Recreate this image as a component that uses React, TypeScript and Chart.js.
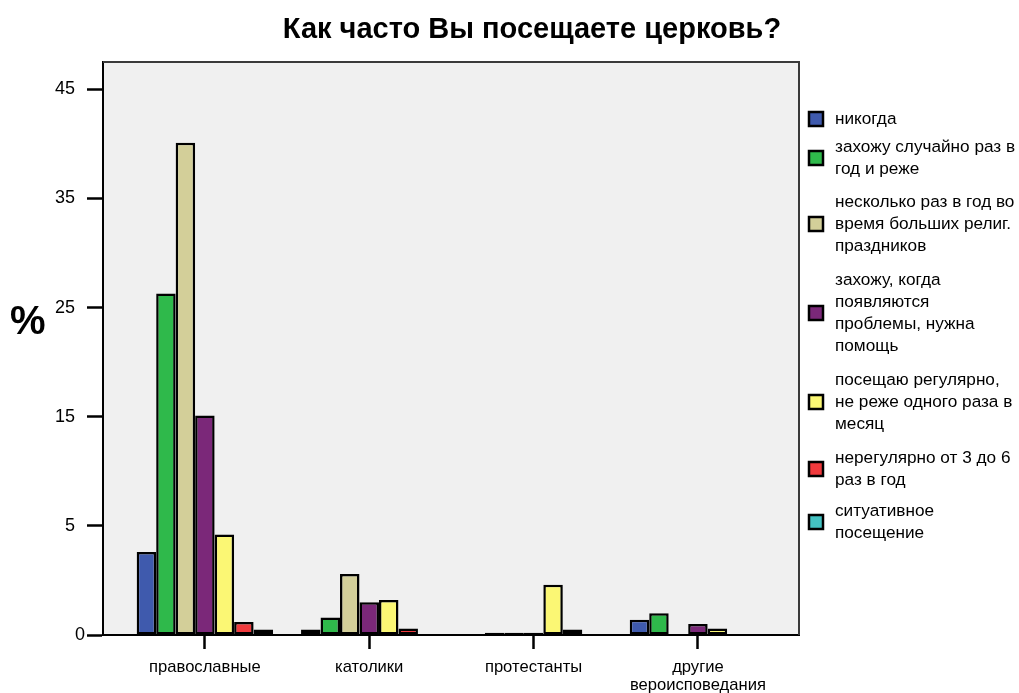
import React, { useEffect, useRef } from "react";
import { Chart, registerables } from "chart.js";

Chart.register(...registerables);

// ---------- data ----------
const chartTitle = "Как часто Вы посещаете церковь?";
const yAxisTitle = "%";

const categories: (string | string[])[] = [
  "православные",
  "католики",
  "протестанты",
  ["другие", "вероисповедания"],
];

// tick labels shown on the value axis (the original axis is not linear: 0..5 takes one step)
const yTickLabels = [0, 5, 15, 25, 35, 45];

const seriesLabels: string[][] = [
  ["никогда"],
  ["захожу случайно раз в", "год и реже"],
  ["несколько раз в год во", "время больших религ.", "праздников"],
  ["захожу, когда", "появляются", "проблемы, нужна", "помощь"],
  ["посещаю регулярно,", "не реже одного раза в", "месяц"],
  ["нерегулярно от 3 до 6", "раз в год"],
  ["ситуативное", "посещение"],
];

const seriesColors = [
  "#3f5aad",
  "#2fb94b",
  "#d3cf99",
  "#7b2879",
  "#fbf774",
  "#f03a3d",
  "#44c2c2",
];

const never: (number | null)[] = [3.8, 0.25, null, 0.7];
const rarelyOnceYear: (number | null)[] = [26.3, 0.8, 0.1, 1.0];
const bigHolidays: (number | null)[] = [40.1, 2.8, 0.1, null];
const whenProblems: (number | null)[] = [15.1, 1.5, 0.1, 0.5];
const regularly: (number | null)[] = [4.6, 1.6, 2.3, 0.3];
const irregular3to6: (number | null)[] = [0.6, 0.3, 0.25, null];
const situational: (number | null)[] = [0.25, null, null, null];

const seriesValues = [
  never,
  rarelyOnceYear,
  bigHolidays,
  whenProblems,
  regularly,
  irregular3to6,
  situational,
];

// ---------- axis mapping (piecewise: 0..5 spans one tick step, then 10 per step) ----------
const toAxis = (v: number) => (v <= 5 ? v * 2 : v + 5);

const FONT = '"Liberation Sans", Arial, Helvetica, sans-serif';

const decorPlugin = {
  id: "decor",
  beforeDraw(chart: any) {
    const { ctx, chartArea } = chart;
    ctx.save();
    ctx.fillStyle = "#ffffff";
    ctx.fillRect(0, 0, chart.width, chart.height);
    ctx.fillStyle = "#f0f0f0";
    ctx.fillRect(
      chartArea.left,
      chartArea.top,
      chartArea.right - chartArea.left,
      chartArea.bottom - chartArea.top
    );
    ctx.restore();
  },
  afterDraw(chart: any) {
    const { ctx, chartArea } = chart;
    ctx.save();
    // frame
    ctx.strokeStyle = "#3a3a3a";
    ctx.lineWidth = 2;
    ctx.beginPath();
    ctx.moveTo(chartArea.left, chartArea.top);
    ctx.lineTo(chartArea.right, chartArea.top);
    ctx.lineTo(chartArea.right, chartArea.bottom);
    ctx.stroke();

    // title
    ctx.fillStyle = "#000";
    ctx.textAlign = "center";
    ctx.textBaseline = "middle";
    ctx.font = `bold 29px ${FONT}`;
    ctx.fillText(chartTitle, 532, 30);

    // y axis title
    ctx.font = `bold 40px ${FONT}`;
    ctx.textAlign = "left";
    ctx.fillText(yAxisTitle, 10, 323);

    // legend
    const firstLineY = [119, 147, 202, 280, 380, 458, 511];
    const lineH = 22;
    ctx.font = `17.2px ${FONT}`;
    ctx.textBaseline = "middle";
    chart.data.datasets.forEach((ds: any, i: number) => {
      const lines: string[] = seriesLabels[i];
      const y0 = firstLineY[i];
      lines.forEach((t, k) => {
        ctx.fillStyle = "#000";
        ctx.fillText(t, 835, y0 + k * lineH);
      });
      const midY = y0 + ((lines.length - 1) * lineH) / 2;
      ctx.fillStyle = ds.backgroundColor;
      ctx.fillRect(809, midY - 7, 14, 14);
      ctx.strokeStyle = "#000";
      ctx.lineWidth = 2.5;
      ctx.strokeRect(809, midY - 7, 14, 14);
    });
    ctx.restore();
  },
};

export default function App() {
  const ref = useRef<HTMLCanvasElement | null>(null);

  useEffect(() => {
    if (!ref.current) return;
    const datasets = seriesValues.map((vals, i) => ({
      label: seriesLabels[i].join(" "),
      data: vals.map((v, j) => ({ x: j, y: v === null ? null : toAxis(v) })),
      backgroundColor: seriesColors[i],
      borderColor: "#000000",
      borderWidth: 2.5,
      borderSkipped: false,
      categoryPercentage: 0.83,
      barPercentage: 1,
    }));

    const chart = new Chart(ref.current, {
      type: "bar",
      data: { datasets: datasets as any },
      options: {
        animation: false,
        responsive: false,
        devicePixelRatio: 1,
        layout: { padding: { top: 62, right: 220, left: 0, bottom: 0 } },
        plugins: {
          legend: { display: false },
          title: { display: false },
          tooltip: { enabled: false },
        },
        scales: {
          x: {
            type: "linear",
            min: -0.62,
            max: 3.615,
            offset: false,
            grid: {
              display: true,
              drawOnChartArea: false,
              drawTicks: true,
              tickLength: 14,
              tickWidth: 2.5,
              tickColor: "#000",
              offset: false,
            },
            border: { display: true, color: "#000", width: 2 },
            afterBuildTicks: (scale: any) => {
              scale.ticks = categories.map((_, i) => ({ value: i }));
            },
            afterFit: (scale: any) => {
              scale.height = 58;
            },
            ticks: {
              autoSkip: false,
              maxRotation: 0,
              padding: 9,
              color: "#000",
              font: { family: FONT, size: 16.6, lineHeight: 1.1 },
              callback: (_v: any, i: number) => categories[i] as any,
            },
          },
          y: {
            type: "linear",
            min: 0,
            max: 52.5,
            grid: {
              display: true,
              drawOnChartArea: false,
              drawTicks: true,
              tickLength: 16,
              tickWidth: 2.5,
              tickColor: "#000",
            },
            border: { display: true, color: "#000", width: 2 },
            afterBuildTicks: (scale: any) => {
              scale.ticks = yTickLabels.map((v) => ({ value: toAxis(v) }));
            },
            afterFit: (scale: any) => {
              scale.width = 103;
            },
            ticks: {
              padding: 2,
              color: "#000",
              font: { family: FONT, size: 18 },
              callback: (_v: any, i: number) =>
                yTickLabels[i] === 0 ? "0" : String(yTickLabels[i]) + "\u00a0\u00a0",
            },
          },
        },
      },
      plugins: [decorPlugin],
    });
    return () => chart.destroy();
  }, []);

  return (
    <div style={{ position: "fixed", left: 0, top: 0, width: 1019, height: 693, background: "#fff" }}>
      <canvas ref={ref} width={1019} height={693} style={{ display: "block" }} />
    </div>
  );
}
